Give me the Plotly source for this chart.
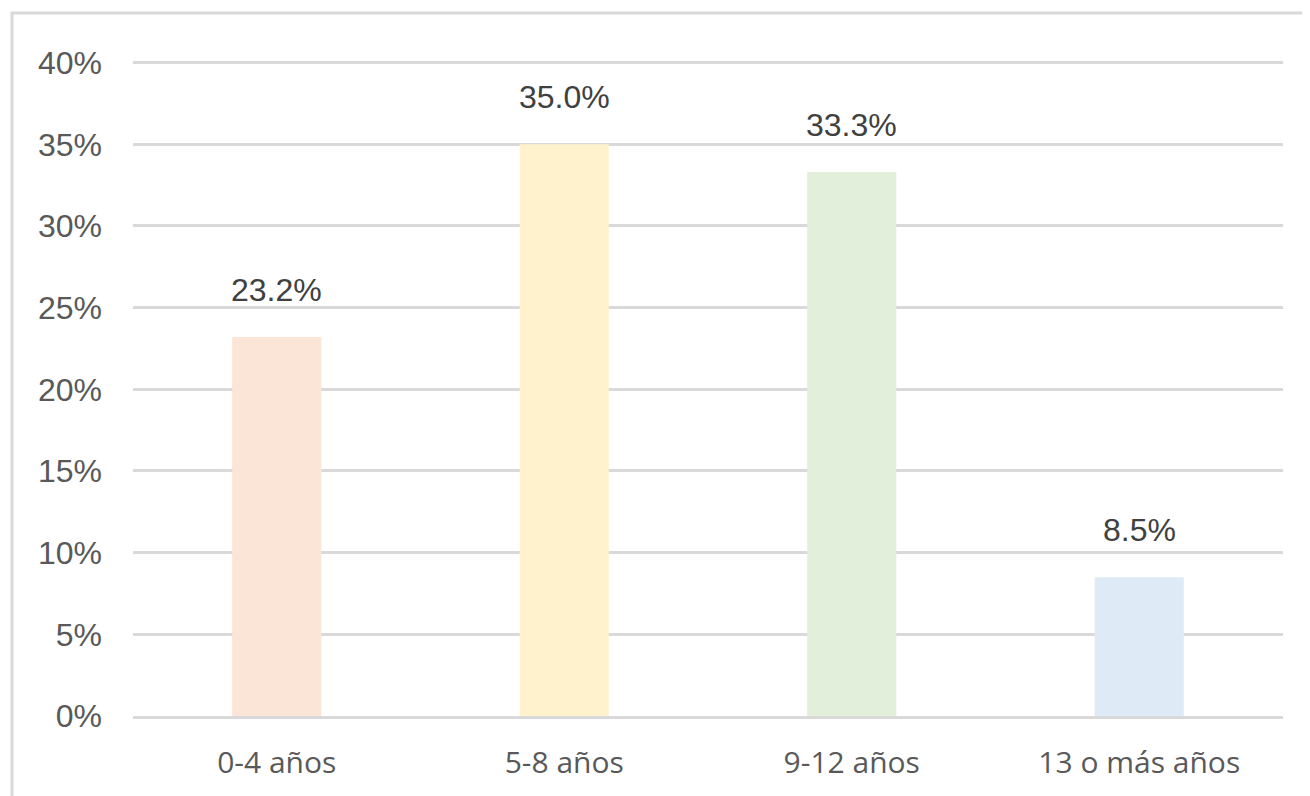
import plotly.graph_objects as go

categorias = ["0-4 años", "5-8 años", "9-12 años", "13 o más años"]
porcentajes = [23.2, 35.0, 33.3, 8.5]
colores = ["#FBE5D6", "#FFF2CC", "#E2EFDA", "#DEEBF7"]
etiquetas = [f"{v:.1f}%" for v in porcentajes]
ticks_y = [0, 5, 10, 15, 20, 25, 30, 35, 40]
ticks_y_txt = [f"{t}%" for t in ticks_y]

W, H = 1310, 796
OFF = 8  # margen del body de la página
L, R, T, B = 133 - OFF, 27 + OFF, 61 - OFF, 80 + OFF
pw, ph = W - L - R, H - T - B

fig = go.Figure()
fig.add_trace(go.Bar(
    x=categorias, y=porcentajes, marker=dict(color=colores, line=dict(width=0)),
    hoverinfo="skip", showlegend=False,
))

for c, v, t in zip(categorias, porcentajes, etiquetas):
    fig.add_annotation(x=c, y=v, text=t, showarrow=False, yanchor="bottom", yshift=27,
                       font=dict(family="Liberation Sans, Arial", size=32, color="#404040"))

# marco exterior del gráfico
fig.add_shape(type="rect", xref="paper", yref="paper", layer="below",
              x0=(12 - OFF - L) / pw, x1=(W + 10 - L) / pw,
              y0=-(B + 20) / ph, y1=(H - B - (13 - OFF)) / ph,
              line=dict(color="#D9D9D9", width=3), fillcolor="rgba(0,0,0,0)")

fig.update_layout(
    width=W, height=H, margin=dict(l=L, r=R, t=T, b=B),
    paper_bgcolor="white", plot_bgcolor="white", bargap=0.69,
)
fig.update_yaxes(range=[0, 40.1], tickmode="array", tickvals=ticks_y, ticktext=ticks_y_txt,
                 showgrid=True, gridcolor="#D9D9D9", gridwidth=3, zeroline=False, showline=False,
                 ticklabelstandoff=30,
                 tickfont=dict(family="Liberation Sans, Arial", size=32, color="#595959"))
fig.update_xaxes(showline=True, linecolor="#D9D9D9", linewidth=3, ticks="",
                 ticklabelstandoff=18,
                 tickfont=dict(family="Open Sans, Noto Sans", size=30, color="#595959"))

fig.write_html("out.html")
